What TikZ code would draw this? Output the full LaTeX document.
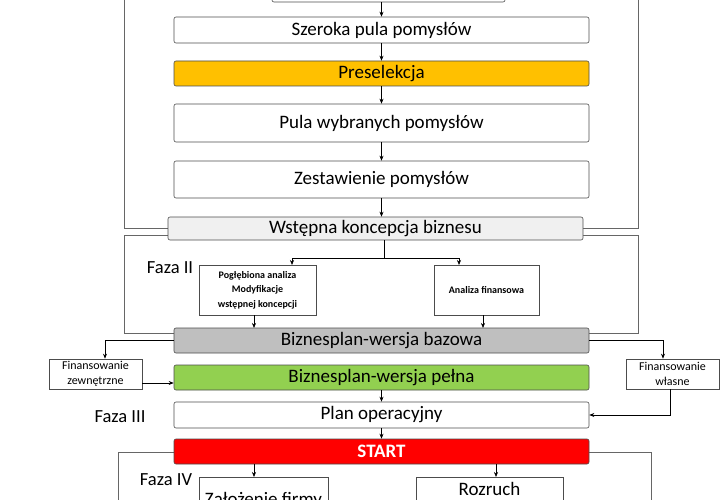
\documentclass[tikz,border=0pt]{standalone}
\usepackage{fontspec}
\setmainfont{Carlito}
\usetikzlibrary{arrows.meta}
\begin{document}
\begin{tikzpicture}[x=1pt,y=-1pt,
  box/.style={draw=black!70,rounded corners=2pt,line width=0.6pt,font=\fontsize{19}{22}\selectfont,inner sep=0pt},
  sbox/.style={draw=black!70,line width=0.6pt,align=center,inner sep=0pt},
  frame/.style={draw=black!60,line width=0.6pt},
  arr/.style={-{Stealth[length=5pt,width=4pt]},line width=0.6pt},
  lab/.style={font=\fontsize{18.5}{22}\selectfont}]
\useasboundingbox (0,0) rectangle (720,500);
% frames
\draw[frame] (124,-5) -- (124,228) -- (168,228);
\draw[frame] (583,228) -- (638,228) -- (638,-5);
\draw[frame] (168,235) -- (124,235) -- (124,333) -- (174,333);
\draw[frame] (583,235) -- (638,235) -- (638,333) -- (589,333);
\draw[frame] (174,452) -- (118,452) -- (118,505);
\draw[frame] (589,452) -- (651,452) -- (651,505);
% boxes
\node[box,minimum width=233,minimum height=12] (top) at (388.5,-4) {};
\node[box,minimum width=415,minimum height=26] (szer) at (381.5,30) {Szeroka pula pomysłów};
\node[box,fill={rgb,255:red,255;green,192;blue,0},minimum width=415,minimum height=25] (pre) at (381.5,73.5) {Preselekcja};
\node[box,minimum width=415,minimum height=38] (pula) at (381.5,123) {Pula wybranych pomysłów};
\node[box,minimum width=415,minimum height=37] (zest) at (381.5,179.5) {Zestawienie pomysłów};
\node[box,fill=black!6,minimum width=415,minimum height=23] (wst) at (375.5,228.5) {Wstępna koncepcja biznesu};
\node[sbox,minimum width=117,minimum height=50,font=\bfseries\fontsize{10}{14.5}\selectfont] (pog) at (257.5,290) {Pogłębiona analiza\\Modyfikacje\\wstępnej koncepcji};
\node[sbox,minimum width=105,minimum height=50,font=\bfseries\fontsize{10}{12}\selectfont] (af) at (486.5,290) {Analiza finansowa};
\node[box,fill=black!25,minimum width=415,minimum height=25] (baz) at (381.5,340.5) {Biznesplan-wersja bazowa};
\node[sbox,minimum width=93,minimum height=30,font=\fontsize{12}{15}\selectfont] (fz) at (95.5,374) {Finansowanie\\zewnętrzne};
\node[sbox,minimum width=93,minimum height=30,font=\fontsize{12}{15}\selectfont] (fw) at (672.5,374) {Finansowanie\\własne};
\node[box,fill={rgb,255:red,146;green,208;blue,80},minimum width=415,minimum height=25] (pel) at (381.5,377.5) {Biznesplan-wersja pełna};
\node[box,minimum width=415,minimum height=26] (plan) at (381.5,415) {Plan operacyjny};
\node[box,fill={rgb,255:red,255;green,0;blue,0},text=white,font=\bfseries\fontsize{19}{22}\selectfont,minimum width=415,minimum height=25] (start) at (381.5,451.5) {START};
\node[sbox,minimum width=129,minimum height=40,anchor=north west] (zal) at (199,477) {};
\node[lab,anchor=north,font=\fontsize{19}{22}\selectfont] at (263.5,489) {Założenie firmy};
\node[sbox,minimum width=147,minimum height=40,anchor=north west] (roz) at (416,477) {};
\node[lab,anchor=north,font=\fontsize{19}{22}\selectfont] at (489.5,479) {Rozruch};
% labels
\node[lab] (f2) at (170,268) {Faza II};
\node[lab] (f3) at (120,417) {Faza III};
\node[lab] (f4) at (166,480) {Faza IV};
% arrows
\draw[arr] (top.south -| szer) -- (szer);
\draw[arr] (szer) -- (pre);
\draw[arr] (pre) -- (pula);
\draw[arr] (pula) -- (zest);
\draw[arr] (zest.south) -- (zest.south |- wst.north);
\coordinate (sp) at (384,258);
\draw[line width=0.6pt] (wst.south -| sp) -- (sp);
\draw[arr] (sp) -| (292,265);
\draw[arr] (sp) -| (459,265);
\draw[arr] (254,315) -- (254,328);
\draw[arr] (483,315) -- (483,328);
\draw[arr] (baz.west |- 0,340) -| (fz.north -| 105,0);
\draw[arr] (baz.east |- 0,340) -| (fw.north -| 663,0);
\draw[arr] (fz.east |- 0,383) -- (pel.west |- 0,383);
\draw[arr] (fw.south -| 670,0) |- (plan.east |- 0,415);
\draw[arr] (pel) -- (plan);
\draw[arr] (plan) -- (start);
\draw[arr] (254,464) -- (zal.north -| 254,0);
\draw[arr] (496,464) -- (roz.north -| 496,0);
\end{tikzpicture}
\end{document}
